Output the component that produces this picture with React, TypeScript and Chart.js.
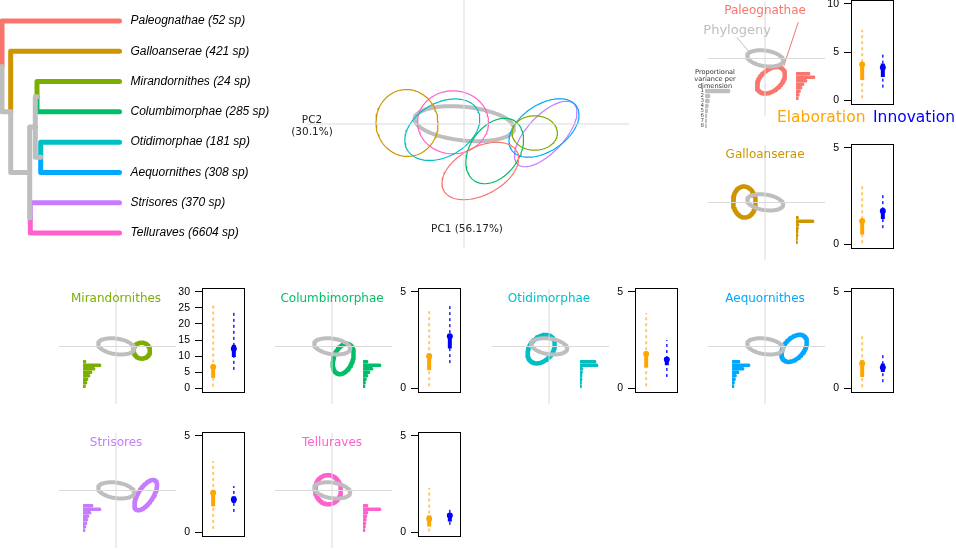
import React, { useEffect, useRef } from 'react';
import { Chart, registerables } from 'chart.js';

Chart.register(...registerables);

// ---------------- data ----------------
const clades = ['Paleognathae', 'Galloanserae', 'Mirandornithes', 'Columbimorphae', 'Otidimorphae', 'Aequornithes', 'Strisores', 'Telluraves'];
const speciesCounts = [52, 421, 24, 285, 181, 308, 370, 6604];
const cladeColors = ['#F8766D', '#CD9600', '#7CAE00', '#00BE67', '#00BFC4', '#00A9FF', '#C77CFF', '#FF61CC'];
const phyloColor = '#BEBEBE';

// phylogeny (node depths in branch-length units; tips at tipDepth)
const tipDepth = 117.5;
const nodeDepths = [0, 8.7, 27.7, 33.3, 35, 38.7, 28.3];
const nodeChildren = [['t0', 'n1'], ['t1', 'n2'], ['n3', 'n6'], ['n4', 'n5'], ['t2', 't3'], ['t4', 't5'], ['t6', 't7']];

// PCA morphospace
const pc1Label = 'PC1 (56.17%)';
const pc2Label = ['PC2', '(30.1%)'];
const pcRangeX = [-15.7, 16.5];
const pcRangeY = [-12.4, 12.4];
const ellCenterX = [1.63, -5.7, 7.07, 3.07, -2.17, 8.0, 8.17, -1.1];
const ellCenterY = [-4.7, 0.1, -0.9, -2.7, -0.57, -0.4, -1.0, 0.17];
const ellMajor = [4.15, 3.35, 2.27, 3.61, 4.04, 3.92, 4.13, 3.55];
const ellMinor = [2.39, 3.1, 1.72, 2.45, 2.68, 2.33, 1.85, 3.15];
const ellAngle = [28, 97, 0, 55, 30, 34, 47, 0];
const phyloEllCenter = [0.03, 0.03];
const phyloEllAxes = [4.99, 1.68];
const phyloEllAngle = -6;

// proportional variance per dimension (dims 1..8)
const dimLabels = ['1', '2', '3', '4', '5', '6', '7', '8'];
const varPhylogeny = [25, 5, 4.5, 3.3, 2.7, 1.8, 1.6, 1.5];
const varPaleognathae = [14, 19, 11, 8, 6, 4.5, 3.3, 2.3];
const varGalloanserae = [2.5, 18, 3, 2.5, 2, 2, 1.5, 1.5];
const varMirandornithes = [3, 18, 12, 9, 7, 5, 4, 2.5];
const varColumbimorphae = [5, 18, 10, 7, 5, 3.5, 2.5, 2];
const varOtidimorphae = [16, 18, 3, 2.5, 2, 2, 1.5, 1.5];
const varAequornithes = [8, 18, 12, 7, 4.5, 3.5, 2.5, 2];
const varStrisores = [10, 18, 8, 6, 5, 4, 3, 2];
const varTelluraves = [5, 18, 5, 4, 3.5, 3, 2.5, 2];
const cladeVariance = [varPaleognathae, varGalloanserae, varMirandornithes, varColumbimorphae, varOtidimorphae, varAequornithes, varStrisores, varTelluraves];

// Elaboration / Innovation summaries
const elabLow = [0.2, 0.05, 0.5, 0.1, 0.1, 0.05, 0.17, 0.03];
const elabQ1 = [2.1, 0.5, 3.2, 0.93, 1.07, 0.58, 1.34, 0.29];
const elabMed = [3.7, 1.2, 6.6, 1.66, 1.77, 1.28, 2.04, 0.7];
const elabQ3 = [3.9, 1.3, 7.3, 1.8, 1.9, 1.45, 2.12, 0.87];
const elabHigh = [7.3, 3.17, 26.3, 4.0, 3.9, 2.76, 3.69, 2.3];
const innoLow = [1.3, 0.83, 5.7, 1.3, 0.58, 0.31, 1.05, 0.38];
const innoQ1 = [2.4, 1.3, 9.7, 2.06, 1.19, 0.84, 1.52, 0.55];
const innoMed = [3.4, 1.72, 12.3, 2.7, 1.49, 1.07, 1.69, 0.87];
const innoQ3 = [3.8, 1.85, 13.5, 2.8, 1.6, 1.28, 1.86, 0.99];
const innoHigh = [5.0, 2.65, 24, 4.4, 2.5, 1.76, 2.39, 1.26];
const boxTicks = [[0, 5, 10], [0, 5], [0, 5, 10, 15, 20, 25, 30], [0, 5], [0, 5], [0, 5], [0, 5], [0, 5]];
const elabLabel = 'Elaboration';
const innoLabel = 'Innovation';
const elabColor = '#FFA500';
const innoColor = '#0000FF';

// ---------------- layout ----------------
const panelCX = [765, 765, 116, 332, 549, 765, 116, 332];
const panelCY = [58, 202, 346, 346, 346, 346, 490, 490];
const histSide = [1, 1, -1, 1, 1, -1, -1, 1];

// ---------------- helpers ----------------
type TextItem = { text: string; x: number; y: number; data?: boolean; dx?: number; font: string; color: string; align?: CanvasTextAlign };

function textPlugin(items: TextItem[]) {
  return {
    id: 'annotText',
    afterDatasetsDraw(chart: any) {
      const ctx = chart.ctx;
      ctx.save();
      items.forEach((it) => {
        let x = it.x;
        let y = it.y;
        if (it.data) {
          x = chart.scales.x.getPixelForValue(it.x);
          y = chart.scales.y.getPixelForValue(it.y);
        }
        ctx.font = it.font;
        ctx.fillStyle = it.color;
        ctx.textAlign = it.align || 'center';
        ctx.textBaseline = 'middle';
        ctx.fillText(it.text, x + (it.dx || 0), y);
      });
      ctx.restore();
    },
  };
}

const framePlugin = {
  id: 'frame',
  afterDraw(chart: any) {
    const a = chart.chartArea;
    const ctx = chart.ctx;
    ctx.save();
    ctx.strokeStyle = '#000';
    ctx.lineWidth = 1;
    ctx.strokeRect(Math.round(a.left) + 0.5, Math.round(a.top) + 0.5, Math.round(a.right - a.left) - 1, Math.round(a.bottom - a.top));
    ctx.restore();
  },
};

const line = (pts: { x: number; y: number }[], color: string, width: number, extra: any = {}) => ({
  data: pts,
  showLine: true,
  borderColor: color,
  backgroundColor: color,
  borderWidth: width,
  pointRadius: 0,
  pointHoverRadius: 0,
  fill: false,
  tension: 0,
  clip: false,
  borderJoinStyle: 'round',
  borderCapStyle: 'round',
  ...extra,
});

const baseOptions = (padding: any) => ({
  responsive: false,
  animation: false,
  devicePixelRatio: 1,
  events: [],
  layout: { padding },
  plugins: { legend: { display: false }, tooltip: { enabled: false }, title: { display: false } },
});

function ellipse(cx: number, cy: number, a: number, b: number, angDeg: number) {
  const t = (angDeg * Math.PI) / 180;
  const pts: { x: number; y: number }[] = [];
  const n = 100;
  for (let k = 0; k <= n; k++) {
    const s = (2 * Math.PI * (k % n)) / n;
    const ex = a * Math.cos(s);
    const ey = b * Math.sin(s);
    pts.push({ x: cx + ex * Math.cos(t) - ey * Math.sin(t), y: cy + ex * Math.sin(t) + ey * Math.cos(t) });
  }
  return pts;
}

const phyloEllipse = () => ellipse(phyloEllCenter[0], phyloEllCenter[1], phyloEllAxes[0], phyloEllAxes[1], phyloEllAngle);
const cladeEllipse = (i: number) => ellipse(ellCenterX[i], ellCenterY[i], ellMajor[i], ellMinor[i], ellAngle[i]);
const crosshair = () => [
  line([{ x: pcRangeX[0], y: 0 }, { x: pcRangeX[1], y: 0 }], '#DADADA', 1, { borderCapStyle: 'butt' }),
  line([{ x: 0, y: pcRangeY[0] }, { x: 0, y: pcRangeY[1] }], '#DADADA', 1, { borderCapStyle: 'butt' }),
];
const pcScales = () => ({
  x: { type: 'linear', min: pcRangeX[0], max: pcRangeX[1], display: false },
  y: { type: 'linear', min: pcRangeY[0], max: pcRangeY[1], display: false },
});

// ---------------- chart configs ----------------
function treeConfig() {
  const pos = (id: string): { x: number; y: number } => {
    const k = +id.slice(1);
    if (id[0] === 't') return { x: tipDepth, y: k + 1 };
    const ch = nodeChildren[k].map(pos);
    return { x: nodeDepths[k], y: (ch[0].y + ch[1].y) / 2 };
  };
  const gray: any[] = [];
  const colored: any[] = [];
  nodeChildren.forEach((ch, k) => {
    const p = pos('n' + k);
    ch.forEach((id) => {
      const c = pos(id);
      const pts = [{ x: p.x, y: p.y }, { x: p.x, y: c.y }, { x: c.x, y: c.y }];
      const isTip = id[0] === 't';
      const ds = line(pts, isTip ? cladeColors[+id.slice(1)] : phyloColor, 5);
      (isTip ? colored : gray).push(ds);
    });
  });
  const texts: TextItem[] = clades.map((c, i) => ({
    text: `${c} (${speciesCounts[i]} sp)`,
    x: tipDepth,
    y: i + 1,
    data: true,
    dx: 11,
    font: 'italic 12px "Liberation Sans"',
    color: '#000',
    align: 'left',
  }));
  return {
    type: 'scatter',
    data: { datasets: [...gray, ...colored] },
    options: {
      ...baseOptions({ left: 2, right: 280 - 2 - tipDepth, top: 21, bottom: 17 }),
      scales: {
        x: { type: 'linear', min: 0, max: tipDepth, display: false },
        y: { type: 'linear', min: 1, max: 8, reverse: true, display: false },
      },
    },
    plugins: [textPlugin(texts)],
  };
}

function bigConfig() {
  const ds = [...crosshair(), ...clades.map((_, i) => line(cladeEllipse(i), cladeColors[i], 1.2)), line(phyloEllipse(), phyloColor, 4)];
  const f = '10.5px "DejaVu Sans"';
  const texts: TextItem[] = [
    { text: pc2Label[0], x: -15.2, y: 0.4, data: true, font: f, color: '#222' },
    { text: pc2Label[1], x: -15.2, y: -0.8, data: true, font: f, color: '#222' },
    { text: pc1Label, x: 0.3, y: -10.5, data: true, font: f, color: '#222' },
  ];
  return {
    type: 'scatter',
    data: { datasets: ds },
    options: { ...baseOptions({ left: 30, right: 10, top: 10, bottom: 10 }), scales: pcScales() },
    plugins: [textPlugin(texts)],
  };
}

function panelConfig(i: number) {
  const ds: any[] = [...crosshair(), line(phyloEllipse(), phyloColor, 4), line(cladeEllipse(i), cladeColors[i], 4.5)];
  const texts: TextItem[] = [{ text: clades[i], x: 0, y: 10.3, data: true, font: '12px "DejaVu Sans"', color: cladeColors[i] }];
  if (i === 0) {
    ds.push(line([{ x: 9.1, y: 7.76 }, { x: 5.2, y: -1.5 }], cladeColors[0], 1));
    ds.push(line([{ x: -7.7, y: 4.5 }, { x: -4.7, y: 1.7 }], phyloColor, 1));
    texts.push({ text: 'Phylogeny', x: -7.7, y: 6.0, data: true, font: '13px "DejaVu Sans"', color: phyloColor });
  }
  return {
    type: 'scatter',
    data: { datasets: ds },
    options: { ...baseOptions(12), scales: pcScales() },
    plugins: [textPlugin(texts)],
  };
}

function histConfig(i: number) {
  return {
    type: 'bar',
    data: {
      labels: dimLabels,
      datasets: [{ data: cladeVariance[i], backgroundColor: cladeColors[i], barThickness: 3, borderRadius: 1.5, borderSkipped: false, borderWidth: 0 }],
    },
    options: {
      ...baseOptions(0),
      indexAxis: 'y',
      scales: {
        x: { type: 'linear', min: 0, max: 25, display: false },
        y: { type: 'category', display: false },
      },
    },
  };
}

function legendConfig() {
  const small = '6.6px "DejaVu Sans"';
  const big = '15.5px "DejaVu Sans"';
  const texts: TextItem[] = [
    { text: 'Proportional', x: 35, y: 12, font: small, color: '#333' },
    { text: 'variance per', x: 35, y: 19.5, font: small, color: '#333' },
    { text: 'dimension', x: 35, y: 26.5, font: small, color: '#333' },
    { text: elabLabel, x: 97, y: 58, font: big, color: elabColor, align: 'left' },
    { text: innoLabel, x: 193, y: 58, font: big, color: innoColor, align: 'left' },
  ];
  return {
    type: 'bar',
    data: {
      labels: dimLabels,
      datasets: [{ data: varPhylogeny, backgroundColor: phyloColor, barThickness: 4, borderRadius: 2, borderSkipped: false, borderWidth: 0 }],
    },
    options: {
      ...baseOptions({ left: 12, right: 276 - 25 - 40, top: 28.5, bottom: 75 - 28.5 - 40 }),
      indexAxis: 'y',
      scales: {
        x: { type: 'linear', min: 0, max: 40, display: false },
        y: {
          type: 'category',
          display: true,
          grid: { display: false, drawTicks: false },
          border: { display: false },
          ticks: { autoSkip: false, padding: 1, font: { family: 'DejaVu Sans', size: 5.5 }, color: '#444' },
          afterFit: (s: any) => { s.width = 13; s.paddingTop = 0; s.paddingBottom = 0; },
        },
      },
    },
    plugins: [textPlugin(texts)],
  };
}

function boxConfig(i: number) {
  const ticks = boxTicks[i];
  const top = ticks[ticks.length - 1];
  const seg = (x: number, a: number, b: number, color: string, w: number, dash: number[] = []) =>
    line([{ x, y: a }, { x, y: b }], color, w, { borderDash: dash, borderCapStyle: 'butt' });
  const pt = (x: number, v: number, color: string) => ({
    data: [{ x, y: v }], showLine: false, pointRadius: 3, pointBackgroundColor: color, pointBorderWidth: 0, pointBorderColor: color, clip: false,
  });
  return {
    type: 'scatter',
    data: {
      datasets: [
        seg(1, elabLow[i], elabHigh[i], 'rgba(255,165,0,0.6)', 2, [3, 3]),
        seg(1, elabQ1[i], elabQ3[i], elabColor, 4),
        pt(1, elabMed[i], elabColor),
        seg(2, innoLow[i], innoHigh[i], innoColor, 1.3, [3, 3]),
        seg(2, innoQ1[i], innoQ3[i], innoColor, 4),
        pt(2, innoMed[i], innoColor),
      ],
    },
    options: {
      ...baseOptions({ left: 0, right: 4, top: 8, bottom: 8 }),
      scales: {
        x: { type: 'linear', min: 0.46, max: 2.54, display: false },
        y: {
          type: 'linear',
          min: -0.04 * top,
          max: 1.04 * top,
          afterBuildTicks: (s: any) => { s.ticks = ticks.map((v) => ({ value: v })); },
          afterFit: (s: any) => { s.width = 40; s.paddingTop = 0; s.paddingBottom = 0; },
          ticks: { padding: 5, color: '#000', font: { family: 'Liberation Sans', size: 10.5 } },
          grid: { display: true, drawOnChartArea: false, drawTicks: true, tickLength: 7, color: '#000', lineWidth: 1 },
          border: { display: true, color: '#000' },
        },
      },
    },
    plugins: [framePlugin],
  };
}

// ---------------- components ----------------
function ChartCanvas({ left, top, width, height, make }: { left: number; top: number; width: number; height: number; make: () => any }) {
  const ref = useRef<HTMLCanvasElement>(null);
  useEffect(() => {
    const chart = new Chart(ref.current as HTMLCanvasElement, make());
    return () => chart.destroy();
  }, []);
  return <canvas ref={ref} width={width} height={height} style={{ position: 'absolute', left, top, width, height }} />;
}

export default function App() {
  return (
    <div style={{ position: 'fixed', left: 0, top: 0, width: 956, height: 549, overflow: 'hidden', background: '#fff' }}>
      <ChartCanvas left={0} top={0} width={280} height={250} make={treeConfig} />
      <ChartCanvas left={277} top={-10} width={362} height={268} make={bigConfig} />
      {clades.map((c, i) => (
        <ChartCanvas key={'p' + c} left={panelCX[i] - 57 - 12} top={panelCY[i] - 57 - 12} width={117 + 24} height={115 + 24} make={() => panelConfig(i)} />
      ))}
      {clades.map((c, i) => (
        <ChartCanvas key={'h' + c} left={histSide[i] > 0 ? panelCX[i] + 31 : panelCX[i] - 33} top={panelCY[i] + 14} width={25} height={28} make={() => histConfig(i)} />
      ))}
      <ChartCanvas left={680} top={60} width={276} height={75} make={legendConfig} />
      {clades.map((c, i) => (
        <ChartCanvas key={'b' + c} left={panelCX[i] + 86 - 40} top={panelCY[i] - 58 - 8} width={40 + 43 + 4} height={104 + 16} make={() => boxConfig(i)} />
      ))}
    </div>
  );
}
